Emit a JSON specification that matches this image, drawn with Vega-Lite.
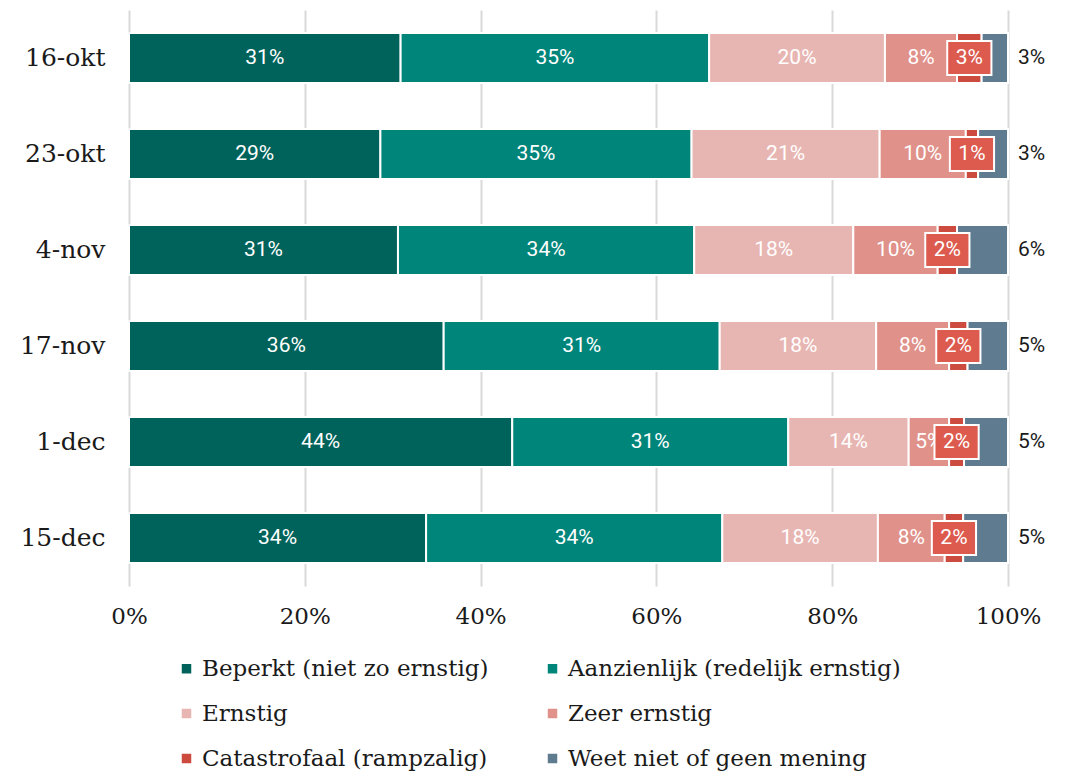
{
  "$schema": "https://vega.github.io/schema/vega-lite/v6.json",
  "autosize": {"type": "none"},
  "width": 879,
  "height": 576,
  "padding": {"left": 129, "top": 10, "right": 63, "bottom": 188},
  "background": "white",
  "config": {"view": {"stroke": null}},
  "data": {"values": [
    {"date": "16-okt", "cat": "Beperkt (niet zo ernstig)", "o": 1, "value": 30.9},
    {"date": "16-okt", "cat": "Aanzienlijk (redelijk ernstig)", "o": 2, "value": 35.1},
    {"date": "16-okt", "cat": "Ernstig", "o": 3, "value": 20.0},
    {"date": "16-okt", "cat": "Zeer ernstig", "o": 4, "value": 8.2},
    {"date": "16-okt", "cat": "Catastrofaal (rampzalig)", "o": 5, "value": 2.8},
    {"date": "16-okt", "cat": "Weet niet of geen mening", "o": 6, "value": 3.0},
    {"date": "23-okt", "cat": "Beperkt (niet zo ernstig)", "o": 1, "value": 28.6},
    {"date": "23-okt", "cat": "Aanzienlijk (redelijk ernstig)", "o": 2, "value": 35.4},
    {"date": "23-okt", "cat": "Ernstig", "o": 3, "value": 21.4},
    {"date": "23-okt", "cat": "Zeer ernstig", "o": 4, "value": 9.8},
    {"date": "23-okt", "cat": "Catastrofaal (rampzalig)", "o": 5, "value": 1.4},
    {"date": "23-okt", "cat": "Weet niet of geen mening", "o": 6, "value": 3.4},
    {"date": "4-nov", "cat": "Beperkt (niet zo ernstig)", "o": 1, "value": 30.6},
    {"date": "4-nov", "cat": "Aanzienlijk (redelijk ernstig)", "o": 2, "value": 33.7},
    {"date": "4-nov", "cat": "Ernstig", "o": 3, "value": 18.1},
    {"date": "4-nov", "cat": "Zeer ernstig", "o": 4, "value": 9.6},
    {"date": "4-nov", "cat": "Catastrofaal (rampzalig)", "o": 5, "value": 2.2},
    {"date": "4-nov", "cat": "Weet niet of geen mening", "o": 6, "value": 5.8},
    {"date": "17-nov", "cat": "Beperkt (niet zo ernstig)", "o": 1, "value": 35.8},
    {"date": "17-nov", "cat": "Aanzienlijk (redelijk ernstig)", "o": 2, "value": 31.4},
    {"date": "17-nov", "cat": "Ernstig", "o": 3, "value": 17.8},
    {"date": "17-nov", "cat": "Zeer ernstig", "o": 4, "value": 8.3},
    {"date": "17-nov", "cat": "Catastrofaal (rampzalig)", "o": 5, "value": 2.1},
    {"date": "17-nov", "cat": "Weet niet of geen mening", "o": 6, "value": 4.6},
    {"date": "1-dec", "cat": "Beperkt (niet zo ernstig)", "o": 1, "value": 43.6},
    {"date": "1-dec", "cat": "Aanzienlijk (redelijk ernstig)", "o": 2, "value": 31.4},
    {"date": "1-dec", "cat": "Ernstig", "o": 3, "value": 13.7},
    {"date": "1-dec", "cat": "Zeer ernstig", "o": 4, "value": 4.6},
    {"date": "1-dec", "cat": "Catastrofaal (rampzalig)", "o": 5, "value": 1.7},
    {"date": "1-dec", "cat": "Weet niet of geen mening", "o": 6, "value": 5.0},
    {"date": "15-dec", "cat": "Beperkt (niet zo ernstig)", "o": 1, "value": 33.8},
    {"date": "15-dec", "cat": "Aanzienlijk (redelijk ernstig)", "o": 2, "value": 33.7},
    {"date": "15-dec", "cat": "Ernstig", "o": 3, "value": 17.7},
    {"date": "15-dec", "cat": "Zeer ernstig", "o": 4, "value": 7.6},
    {"date": "15-dec", "cat": "Catastrofaal (rampzalig)", "o": 5, "value": 2.1},
    {"date": "15-dec", "cat": "Weet niet of geen mening", "o": 6, "value": 5.1}
  ]},
  "transform": [
    {"stack": "value", "groupby": ["date"], "sort": [{"field": "o", "order": "ascending"}], "as": ["x0", "x1"]},
    {"calculate": "(datum.x0 + datum.x1) / 2", "as": "mid"},
    {"calculate": "format(datum.value, '.0f') + '%'", "as": "lbl"}
  ],
  "encoding": {
    "y": {
      "field": "date", "type": "nominal",
      "sort": ["16-okt", "23-okt", "4-nov", "17-nov", "1-dec", "15-dec"],
      "scale": {"paddingInner": 0.48, "paddingOuter": 0.24},
      "axis": {"title": null, "domain": false, "ticks": false, "labelPadding": 24, "labelFont": "DejaVu Serif", "labelFontSize": 25, "labelColor": "#1a1a1a"}
    }
  },
  "layer": [
    {
      "mark": {"type": "bar", "stroke": "white", "strokeWidth": 2},
      "encoding": {
        "x": {"field": "x0", "type": "quantitative", "scale": {"domain": [0, 100], "nice": false},
          "axis": {"title": null, "values": [0, 20, 40, 60, 80, 100], "labelExpr": "datum.value + '%'", "labelFlush": false, "domain": false, "ticks": false, "grid": true, "gridColor": "#d9d9d9", "gridWidth": 2, "labelPadding": 19, "labelFont": "DejaVu Serif", "labelFontSize": 23, "labelColor": "#1a1a1a"}},
        "x2": {"field": "x1"},
        "color": {
          "field": "cat", "type": "nominal",
          "scale": {
            "domain": ["Beperkt (niet zo ernstig)", "Aanzienlijk (redelijk ernstig)", "Ernstig", "Zeer ernstig", "Catastrofaal (rampzalig)", "Weet niet of geen mening"],
            "range": ["#00635b", "#00857a", "#e8b6b2", "#df918a", "#cd4a3f", "#5f7b90"]
          },
          "legend": {
            "title": null, "orient": "none", "legendX": 46, "legendY": 647, "columns": 2, "direction": "horizontal",
            "symbolType": "square", "symbolSize": 90, "symbolStrokeWidth": 0,
            "labelFont": "DejaVu Serif", "labelFontSize": 23, "labelColor": "#1a1a1a", "labelLimit": 400,
            "rowPadding": 21, "columnPadding": 52, "labelOffset": 4
          }
        }
      }
    },
    {
      "transform": [{"filter": "datum.o <= 4"}],
      "mark": {"type": "text", "color": "white", "font": "Roboto", "fontSize": 21},
      "encoding": {"x": {"field": "mid", "type": "quantitative"}, "text": {"field": "lbl"}}
    },
    {
      "transform": [{"filter": "datum.o == 5"}],
      "mark": {"type": "point", "shape": "M-1.3,-1H1.3V1H-1.3Z", "size": 1156, "filled": true, "fill": "#dc5a4e", "stroke": "white", "strokeWidth": 2, "opacity": 1},
      "encoding": {"x": {"field": "mid", "type": "quantitative"}}
    },
    {
      "transform": [{"filter": "datum.o == 5"}],
      "mark": {"type": "text", "color": "white", "font": "Roboto", "fontSize": 21},
      "encoding": {"x": {"field": "mid", "type": "quantitative"}, "text": {"field": "lbl"}}
    },
    {
      "transform": [{"filter": "datum.o == 6"}],
      "mark": {"type": "text", "color": "#1a1a1a", "font": "Roboto", "fontSize": 21, "align": "left", "dx": 10},
      "encoding": {"x": {"field": "x1", "type": "quantitative"}, "text": {"field": "lbl"}}
    }
  ]
}
